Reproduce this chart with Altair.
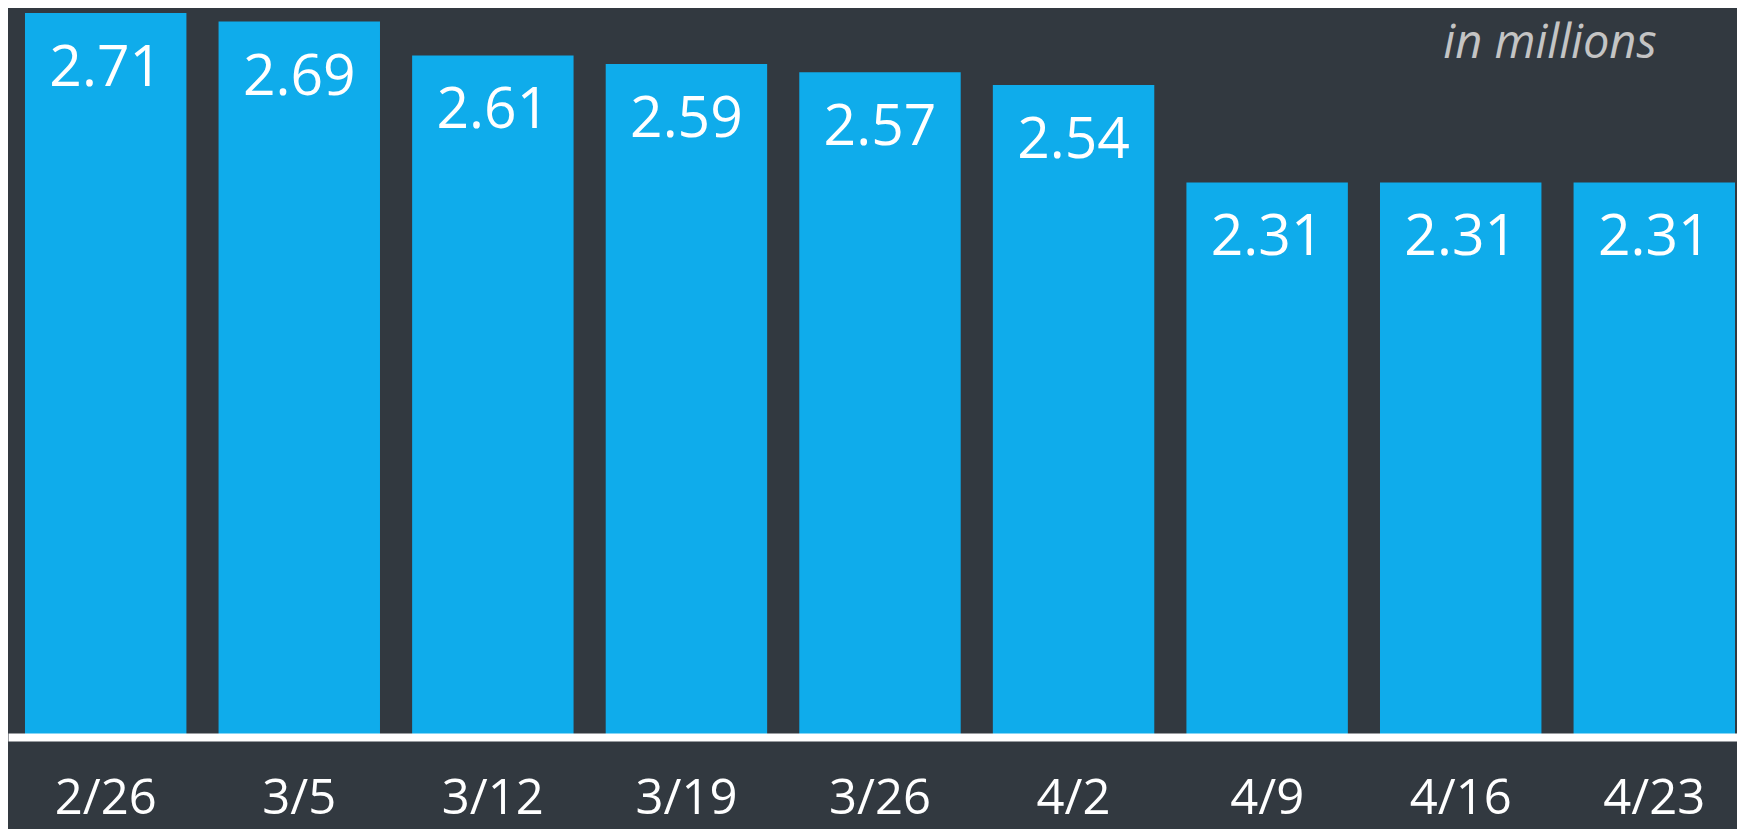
import altair as alt
import pandas as pd

dates = ["2/26", "3/5", "3/12", "3/19", "3/26", "4/2", "4/9", "4/16", "4/23"]
values = [2.71, 2.69, 2.61, 2.59, 2.57, 2.54, 2.31, 2.31, 2.31]
unit_note = ["in millions"]

df = pd.DataFrame({"date": dates, "value": values})
note_df = pd.DataFrame({"note": unit_note})

BG = "#323940"
BAR = "#0FACEB"
FONT = "Open Sans"

x_enc = alt.X(
    "date:N",
    sort=dates,
    scale=alt.Scale(paddingInner=0.166, paddingOuter=0.049, align=0.895),
    axis=alt.Axis(
        title=None,
        labelAngle=0,
        labelFont=FONT,
        labelFontSize=49,
        labelColor="white",
        labelBaseline="alphabetic",
        labelPadding=76,
        ticks=False,
        domainColor="white",
        domainWidth=8,
        grid=False,
        zindex=1,
    ),
)
y_enc = alt.Y(
    "value:Q",
    scale=alt.Scale(domain=[1.0, 2.722], zero=False, nice=False),
    axis=None,
)

bars = alt.Chart(df).mark_bar(color=BAR).encode(
    x=x_enc,
    y=y_enc,
    y2=alt.datum(1.0),
)

labels = alt.Chart(df).mark_text(
    font=FONT,
    fontSize=57,
    color="white",
    baseline="alphabetic",
    align="center",
    dy=73,
).encode(
    x=alt.X("date:N", sort=dates),
    y=alt.Y("value:Q"),
    text=alt.Text("value:Q", format=".2f"),
)

note = alt.Chart(note_df).mark_text(
    font=FONT,
    fontSize=47,
    fontStyle="italic",
    color="#C4C4C4",
    align="center",
    baseline="alphabetic",
).encode(
    x=alt.value(1542),
    y=alt.value(50),
    text="note:N",
)

chart = (
    alt.layer(bars, labels, note)
    .properties(
        width=1729,
        height=729,
        background=BG,
        padding={"left": 0, "top": 0, "right": 0, "bottom": 92},
        autosize=alt.AutoSizeParams(type="none"),
    )
    .configure_view(stroke=None)
)

chart.save("out.html", embed_options={"renderer": "svg", "actions": False})
